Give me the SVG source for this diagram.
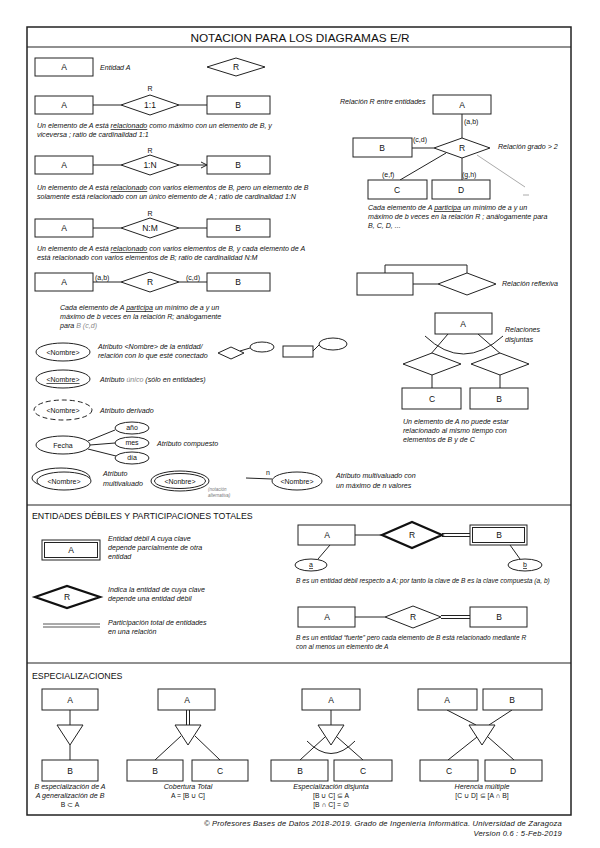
<svg xmlns="http://www.w3.org/2000/svg" width="600" height="848" viewBox="0 0 600 848">
<style>
text{font-family:"Liberation Sans",Arial,sans-serif;fill:#111}
.d{font-style:italic;font-size:7.1px}
.w{font-size:6.6px}
.l{font-size:8.5px;text-anchor:middle}
.c{text-anchor:middle}
.s{fill:#fff;stroke:#222;stroke-width:1}
.k{fill:#fff;stroke:#111;stroke-width:2.2}
.ln{stroke:#222;stroke-width:1;fill:none}
.g{stroke:#aaa;stroke-width:1;fill:none}
.h{font-size:8.8px}
.sm{font-size:7px}
.m{font-size:6.8px;text-anchor:middle}
</style>
<defs>
<marker id="arr" markerWidth="8" markerHeight="8" refX="7" refY="4" orient="auto" markerUnits="userSpaceOnUse">
<path d="M1,1 L7,4 L1,7" fill="none" stroke="#222" stroke-width="1"/>
</marker>
</defs>
<rect x="27" y="27" width="544" height="788" fill="#fff" stroke="#222" stroke-width="1.5"/>
<line x1="27" y1="47" x2="571" y2="47" stroke="#222" stroke-width="1.2"/>
<line x1="27" y1="505" x2="571" y2="505" stroke="#222" stroke-width="1.2"/>
<line x1="27" y1="663" x2="571" y2="663" stroke="#222" stroke-width="1.2"/>
<text x="300" y="42" class="c" style="font-size:11.8px">NOTACION PARA LOS DIAGRAMAS E/R</text>

<g id="connectors">
<line class="ln" x1="93" y1="105" x2="121" y2="105"/>
<line class="ln" x1="179" y1="105" x2="207" y2="105"/>
<line class="ln" x1="93" y1="165" x2="121" y2="165"/>
<line class="ln" x1="179" y1="165" x2="207" y2="165" marker-end="url(#arr)"/>
<line class="ln" x1="93" y1="228" x2="121" y2="228"/>
<line class="ln" x1="179" y1="228" x2="207" y2="228"/>
<line class="ln" x1="93" y1="282" x2="121" y2="282"/>
<line class="ln" x1="179" y1="282" x2="207" y2="282"/>
<line class="ln" x1="240" y1="351" x2="250" y2="348"/>
<line class="ln" x1="313" y1="351" x2="319" y2="345"/>
<line class="ln" x1="88" y1="441" x2="115" y2="430"/>
<line class="ln" x1="90" y1="445" x2="115" y2="443"/>
<line class="ln" x1="88" y1="449" x2="116" y2="456"/>
<line class="ln" x1="246" y1="478" x2="272" y2="479"/>
<line class="ln" x1="462" y1="114" x2="462" y2="138"/>
<line class="ln" x1="412" y1="148" x2="434" y2="148"/>
<line class="ln" x1="446" y1="153" x2="400" y2="180"/>
<line class="ln" x1="462" y1="158" x2="462" y2="180"/>
<line class="g" x1="477" y1="155" x2="525" y2="187"/>
<line class="g" x1="523" y1="195" x2="529" y2="195"/>
<path class="ln" d="M385,273 V265 H467 V273"/>
<line class="ln" x1="413" y1="284" x2="438" y2="284"/>
<line class="ln" x1="448" y1="334" x2="430" y2="355"/>
<line class="ln" x1="478" y1="334" x2="502" y2="355"/>
<path class="ln" d="M425,336 Q463,372 503,336"/>
<line class="ln" x1="432" y1="375" x2="432" y2="388"/>
<line class="ln" x1="500" y1="375" x2="500" y2="388"/>
<line x1="43" y1="624" x2="100" y2="624" stroke="#555" stroke-width="1"/>
<line x1="43" y1="627" x2="100" y2="627" stroke="#555" stroke-width="1"/>
<line class="ln" x1="355" y1="535" x2="382" y2="535"/>
<line class="ln" x1="442" y1="533.5" x2="470" y2="533.5"/>
<line class="ln" x1="442" y1="536.5" x2="470" y2="536.5"/>
<line class="ln" x1="330" y1="545" x2="318" y2="559"/>
<line class="ln" x1="510" y1="545" x2="520" y2="559"/>
<line class="ln" x1="355" y1="617" x2="385" y2="617"/>
<line class="ln" x1="441" y1="615.5" x2="470" y2="615.5"/>
<line class="ln" x1="441" y1="618.5" x2="470" y2="618.5"/>
<line class="ln" x1="70" y1="710" x2="70" y2="725"/>
<line class="ln" x1="70" y1="745" x2="70" y2="760"/>
<line class="ln" x1="186.5" y1="710" x2="186.5" y2="726"/>
<line class="ln" x1="189.5" y1="710" x2="189.5" y2="726"/>
<line class="ln" x1="181" y1="736" x2="155" y2="760"/>
<line class="ln" x1="195" y1="736" x2="220" y2="760"/>
<line class="ln" x1="331" y1="710" x2="331" y2="725"/>
<line class="ln" x1="325" y1="737" x2="300" y2="760"/>
<line class="ln" x1="337" y1="737" x2="363" y2="760"/>
<path class="ln" d="M307,741 Q331,766 355,741"/>
<line class="ln" x1="447" y1="710" x2="476" y2="725"/>
<line class="ln" x1="512" y1="710" x2="489" y2="725"/>
<line class="ln" x1="477" y1="737" x2="448" y2="760"/>
<line class="ln" x1="488" y1="737" x2="514" y2="760"/>
</g>

<g id="row1-entA"><rect class="s" x="35" y="58" width="58" height="18"/><text class="l" x="64" y="70">A</text></g>
<text class="d" x="100" y="70">Entidad A</text>
<g id="row1-relR"><polygon class="s" points="207,67 236,58 265,67 236,76"/><text class="l" x="236" y="70">R</text></g>

<g id="row2-A"><rect class="s" x="35" y="96" width="58" height="18"/><text class="l" x="64" y="108">A</text></g>
<g id="row2-R"><polygon class="s" points="121,105 150,95 179,105 150,115"/><text class="l" x="150" y="108">1:1</text><text class="l sm" x="150" y="91">R</text></g>
<g id="row2-B"><rect class="s" x="207" y="96" width="63" height="18"/><text class="l" x="238" y="108">B</text></g>
<text class="d" x="37" y="128">Un elemento de A está <tspan text-decoration="underline">relacionado</tspan> como máximo con un elemento de B, y</text>
<text class="d" x="37" y="137">viceversa ; ratio de cardinalidad 1:1</text>

<g id="row3-A"><rect class="s" x="35" y="156" width="58" height="18"/><text class="l" x="64" y="168">A</text></g>
<g id="row3-R"><polygon class="s" points="121,165 150,155 179,165 150,175"/><text class="l" x="150" y="168">1:N</text><text class="l sm" x="150" y="153">R</text></g>
<g id="row3-B"><rect class="s" x="207" y="156" width="63" height="18"/><text class="l" x="238" y="168">B</text></g>
<text class="d" x="37" y="190">Un elemento de A está <tspan text-decoration="underline">relacionado</tspan> con varios elementos de B, pero un elemento de B</text>
<text class="d" x="37" y="199">solamente está relacionado con un único elemento de A ; ratio de cardinalidad 1:N</text>

<g id="row4-A"><rect class="s" x="35" y="219" width="58" height="18"/><text class="l" x="64" y="231">A</text></g>
<g id="row4-R"><polygon class="s" points="121,228 150,218 179,228 150,238"/><text class="l" x="150" y="231">N:M</text><text class="l sm" x="150" y="216">R</text></g>
<g id="row4-B"><rect class="s" x="207" y="219" width="63" height="18"/><text class="l" x="238" y="231">B</text></g>
<text class="d" x="37" y="251">Un elemento de A está <tspan text-decoration="underline">relacionado</tspan> con varios elementos de B, y cada elemento de A</text>
<text class="d" x="37" y="260">está relacionado con varios elementos de B; ratio de cardinalidad N:M</text>

<g id="row5-A"><rect class="s" x="35" y="273" width="58" height="18"/><text class="l" x="64" y="285">A</text></g>
<g id="row5-R"><polygon class="s" points="121,282 150,272 179,282 150,292"/><text class="l" x="150" y="285">R</text></g>
<g id="row5-B"><rect class="s" x="207" y="273" width="63" height="18"/><text class="l" x="238" y="285">B</text></g>
<text class="sm" x="95" y="280">(a,b)</text>
<text class="sm" x="186" y="280">(c,d)</text>
<text class="d" x="60" y="310">Cada elemento de A <tspan text-decoration="underline">participa</tspan> un mínimo de a y un</text>
<text class="d" x="60" y="319">máximo de b veces en la relación R; análogamente</text>
<text class="d" x="60" y="328">para <tspan fill="#888">B (c,d)</tspan></text>

<g id="attr-simple"><ellipse class="s" cx="63" cy="352" rx="27" ry="9"/><text class="l sm" x="63" y="355">&lt;Nombre&gt;</text></g>
<text class="d" x="98" y="349">Atributo &lt;Nombre&gt; de la entidad/</text>
<text class="d" x="98" y="358">relación con lo que esté conectado</text>
<g id="ex-rel"><polygon class="s" points="218,353 231,347 244,353 231,359"/><ellipse class="s" cx="262" cy="347" rx="12" ry="5"/></g>
<g id="ex-ent"><rect class="s" x="283" y="346" width="30" height="11"/><ellipse class="s" cx="333" cy="344" rx="14" ry="6"/></g>

<g id="attr-key"><ellipse class="s" cx="63" cy="379" rx="27" ry="9"/><text class="l sm" x="63" y="382" text-decoration="underline">&lt;Nombre&gt;</text></g>
<text class="d" x="100" y="382">Atributo <tspan fill="#888">único</tspan> (sólo en entidades)</text>

<g id="attr-derived"><ellipse class="s" cx="63" cy="410" rx="29" ry="10" stroke-dasharray="5,3"/><text class="l sm" x="63" y="413">&lt;Nombre&gt;</text></g>
<text class="d" x="100" y="413">Atributo derivado</text>

<g id="attr-fecha"><ellipse class="s" cx="63" cy="445" rx="27" ry="9"/><text class="l sm" x="63" y="448">Fecha</text></g>
<g id="attr-anio"><ellipse class="s" cx="132" cy="428" rx="17" ry="6"/><text class="l sm" x="132" y="430">año</text></g>
<g id="attr-mes"><ellipse class="s" cx="132" cy="443" rx="17" ry="6"/><text class="l sm" x="132" y="445">mes</text></g>
<g id="attr-dia"><ellipse class="s" cx="132" cy="458" rx="17" ry="6"/><text class="l sm" x="132" y="460">día</text></g>
<text class="d" x="157" y="446">Atributo compuesto</text>

<g id="attr-multi"><ellipse class="s" cx="61" cy="478" rx="29" ry="10"/><ellipse class="s" cx="64" cy="481" rx="27" ry="9"/><text class="l sm" x="64" y="484">&lt;Nombre&gt;</text></g>
<text class="d" x="103" y="476">Atributo</text>
<text class="d" x="103" y="486">multivaluado</text>
<g id="attr-multi-alt"><ellipse class="s" cx="180" cy="481" rx="29" ry="10" stroke-width="1.3"/><ellipse class="s" cx="180" cy="481" rx="25.5" ry="7.5"/><text class="l sm" x="180" y="484">&lt;Nonbre&gt;</text></g>
<text class="d" x="208" y="491" style="font-size:4.5px;fill:#777">(notación</text>
<text class="d" x="208" y="497" style="font-size:4.5px;fill:#777">alternativa)</text>
<text class="sm" x="266" y="475">n</text>
<g id="attr-multi-n"><ellipse class="s" cx="297" cy="481" rx="25" ry="9"/><text class="l sm" x="297" y="484">&lt;Nombre&gt;</text></g>
<text class="d" x="336" y="478">Atributo multivaluado con</text>
<text class="d" x="336" y="488">un máximo de n valores</text>

<text class="d" x="340" y="104">Relación R entre entidades</text>
<g id="n-A"><rect class="s" x="433" y="95" width="58" height="19"/><text class="l" x="462" y="108">A</text></g>
<g id="n-R"><polygon class="s" points="434,148 462,138 490,148 462,158"/><text class="l" x="462" y="151">R</text></g>
<g id="n-B"><rect class="s" x="353" y="138" width="59" height="19"/><text class="l" x="382" y="151">B</text></g>
<g id="n-C"><rect class="s" x="368" y="180" width="59" height="19"/><text class="l" x="397" y="193">C</text></g>
<g id="n-D"><rect class="s" x="432" y="180" width="58" height="19"/><text class="l" x="461" y="193">D</text></g>
<text class="sm" x="464" y="124">(a,b)</text>
<text class="sm" x="413" y="142">(c,d)</text>
<text class="sm" x="382" y="177">(e,f)</text>
<text class="sm" x="462" y="177">(g,h)</text>
<text class="d" x="498" y="149">Relación grado &gt; 2</text>
<text class="d" x="368" y="210">Cada elemento de A <tspan text-decoration="underline">participa</tspan>  un mínimo de a y un</text>
<text class="d" x="368" y="219">máximo de b veces en la relación R ; análogamente para</text>
<text class="d" x="368" y="228">B, C, D, ...</text>

<g id="refl-E"><rect class="s" x="357" y="273" width="56" height="22"/></g>
<g id="refl-R"><polygon class="s" points="438,284 467,273 496,284 467,295"/></g>
<text class="d" x="502" y="286">Relación reflexiva</text>

<g id="dis-A"><rect class="s" x="435" y="313" width="57" height="21"/><text class="l" x="463" y="327">A</text></g>
<g id="dis-R1"><polygon class="s" points="403,364 432,353 461,364 432,375"/></g>
<g id="dis-R2"><polygon class="s" points="471,364 500,353 529,364 500,375"/></g>
<g id="dis-C"><rect class="s" x="402" y="388" width="59" height="21"/><text class="l" x="432" y="402">C</text></g>
<g id="dis-B"><rect class="s" x="470" y="388" width="58" height="21"/><text class="l" x="499" y="402">B</text></g>
<text class="d" x="505" y="332">Relaciones</text>
<text class="d" x="505" y="342">disjuntas</text>
<text class="d" x="403" y="424">Un elemento de A no puede estar</text>
<text class="d" x="403" y="433">relacionado al mismo tiempo con</text>
<text class="d" x="403" y="442">elementos de B y de  C</text>

<text class="h" x="32" y="519">ENTIDADES DÉBILES Y PARTICIPACIONES TOTALES</text>
<g id="weak-A"><rect class="s" x="42" y="540" width="58" height="20" stroke-width="1.2"/><rect class="s" x="44.5" y="542.5" width="53" height="15"/><text class="l" x="71" y="553">A</text></g>
<text class="d" x="108" y="541">Entidad débil A cuya clave</text>
<text class="d" x="108" y="550">depende parcialmente de otra</text>
<text class="d" x="108" y="559">entidad</text>
<g id="weak-R"><polygon class="k" points="35,597 67,586 100,597 67,608"/><text class="l" x="67" y="600">R</text></g>
<text class="d" x="108" y="592">Indica la entidad de cuya clave</text>
<text class="d" x="108" y="601">depende una entidad débil</text>
<text class="d" x="108" y="625">Participación total de entidades</text>
<text class="d" x="108" y="634">en una relación</text>

<g id="w-A"><rect class="s" x="298" y="525" width="57" height="20"/><text class="l" x="327" y="538">A</text></g>
<g id="w-R"><polygon class="k" points="382,535 412,522 442,535 412,548"/><text class="l" x="412" y="538">R</text></g>
<g id="w-B"><rect class="s" x="470" y="525" width="57" height="20" stroke-width="1.2"/><rect class="s" x="472.5" y="527.5" width="52" height="15"/><text class="l" x="499" y="538">B</text></g>
<g id="w-a"><ellipse class="s" cx="311" cy="565" rx="16" ry="6"/><text class="l sm" x="311" y="567" text-decoration="underline">a</text></g>
<g id="w-b"><ellipse class="s" cx="525" cy="565" rx="17" ry="6"/><text class="l sm" x="525" y="567" text-decoration="underline">b</text></g>
<text class="d w" x="296" y="583">B es un entidad débil respecto a A; por tanto  la clave de B es la clave compuesta (a, b)</text>

<g id="s-A"><rect class="s" x="298" y="607" width="57" height="20"/><text class="l" x="327" y="620">A</text></g>
<g id="s-R"><polygon class="s" points="385,617 413,606 441,617 413,628"/><text class="l" x="413" y="620">R</text></g>
<g id="s-B"><rect class="s" x="470" y="607" width="57" height="20"/><text class="l" x="499" y="620">B</text></g>
<text class="d w" x="296" y="640">B es un entidad “fuerte” pero cada elemento de B está relacionado mediante R</text>
<text class="d w" x="296" y="649">con al menos un elemento de A</text>

<text class="h" x="32" y="679">ESPECIALIZACIONES</text>
<g id="e1-A"><rect class="s" x="42" y="689" width="56" height="21"/><text class="l" x="70" y="703">A</text></g>
<g id="e1-T"><polygon class="s" points="57,725 83,725 70,745"/></g>
<g id="e1-B"><rect class="s" x="42" y="760" width="56" height="21"/><text class="l" x="70" y="774">B</text></g>
<text class="d c" x="70" y="789">B especialización de A</text>
<text class="d c" x="70" y="798">A generalización de B</text>
<text class="m" x="70" y="807">B ⊂ A</text>

<g id="e2-A"><rect class="s" x="158" y="689" width="57" height="21"/><text class="l" x="187" y="703">A</text></g>
<g id="e2-T"><polygon class="s" points="175,725 201,725 188,745"/></g>
<g id="e2-B"><rect class="s" x="127" y="760" width="56" height="21"/><text class="l" x="155" y="774">B</text></g>
<g id="e2-C"><rect class="s" x="192" y="760" width="56" height="21"/><text class="l" x="220" y="774">C</text></g>
<text class="d c" x="188" y="789">Cobertura Total</text>
<text class="m" x="188" y="798">A = [B ∪ C]</text>

<g id="e3-A"><rect class="s" x="302" y="689" width="58" height="21"/><text class="l" x="331" y="703">A</text></g>
<g id="e3-T"><polygon class="s" points="318,725 344,725 331,745"/></g>
<g id="e3-B"><rect class="s" x="271" y="760" width="57" height="21"/><text class="l" x="300" y="774">B</text></g>
<g id="e3-C"><rect class="s" x="334" y="760" width="58" height="21"/><text class="l" x="363" y="774">C</text></g>
<text class="d c" x="331" y="789">Especialización disjunta</text>
<text class="m" x="331" y="798">[B ∪ C] ⊆ A</text>
<text class="m" x="331" y="807">[B ∩ C] = ∅</text>

<g id="e4-A"><rect class="s" x="418" y="689" width="59" height="21"/><text class="l" x="447" y="703">A</text></g>
<g id="e4-B"><rect class="s" x="483" y="689" width="59" height="21"/><text class="l" x="512" y="703">B</text></g>
<g id="e4-T"><polygon class="s" points="469,725 495,725 482,745"/></g>
<g id="e4-C"><rect class="s" x="420" y="760" width="58" height="21"/><text class="l" x="449" y="774">C</text></g>
<g id="e4-D"><rect class="s" x="485" y="760" width="57" height="21"/><text class="l" x="513" y="774">D</text></g>
<text class="d c" x="482" y="789">Herencia múltiple</text>
<text class="m" x="482" y="798">[C ∪ D] ⊆ [A ∩ B]</text>

<text class="d" x="562" y="826" text-anchor="end" style="font-size:7.6px;letter-spacing:0.2px">© Profesores Bases de Datos 2018-2019. Grado de Ingeniería Informática. Universidad de Zaragoza</text>
<text class="d" x="562" y="836" text-anchor="end" style="font-size:7.6px;letter-spacing:0.2px">Version 0.6 : 5-Feb-2019</text>
</svg>
